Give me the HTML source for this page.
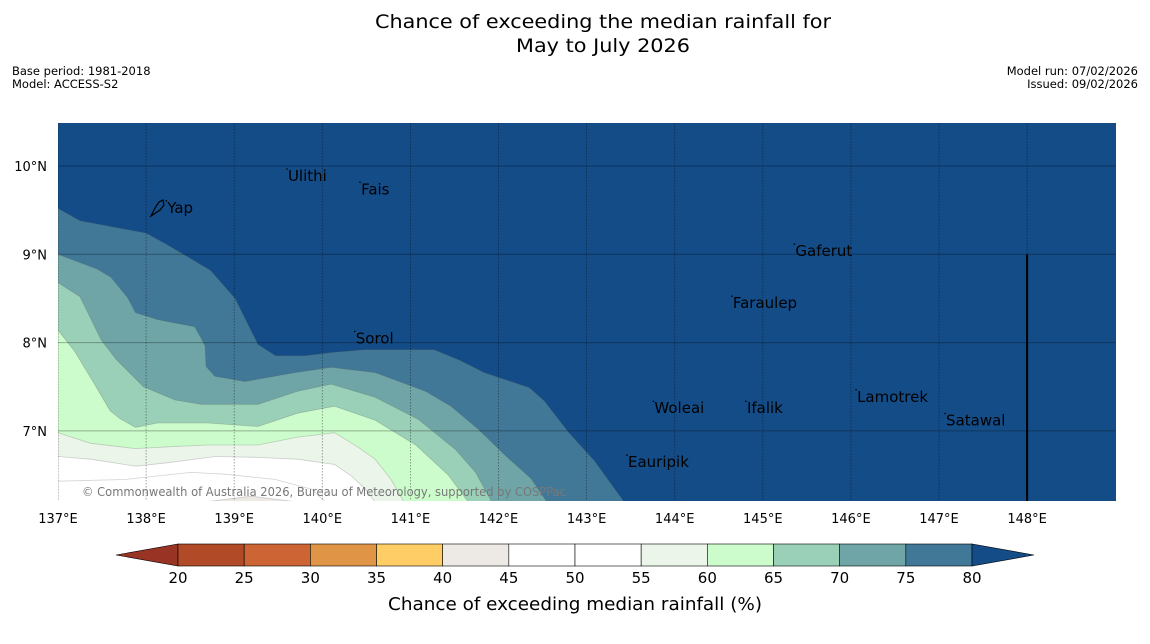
<!DOCTYPE html>
<html><head><meta charset="utf-8">
<style>
html,body{margin:0;padding:0;background:#fff;width:1150px;height:644px;overflow:hidden}
svg{display:block;font-family:"DejaVu Sans","Liberation Sans",sans-serif}
</style></head>
<body>
<svg id="chart" width="1150" height="644" viewBox="0 0 1150 644" xmlns="http://www.w3.org/2000/svg">
<text x="603" y="28" font-size="19" text-anchor="middle" textLength="456" lengthAdjust="spacingAndGlyphs">Chance of exceeding the median rainfall for</text>
<text x="603" y="52" font-size="19" text-anchor="middle" textLength="174" lengthAdjust="spacingAndGlyphs">May to July 2026</text>
<text x="12" y="75" font-size="11.5">Base period: 1981-2018</text>
<text x="12" y="88" font-size="11.5">Model: ACCESS-S2</text>
<text x="1138" y="75" font-size="11.5" text-anchor="end">Model run: 07/02/2026</text>
<text x="1138" y="88" font-size="11.5" text-anchor="end">Issued: 09/02/2026</text>
<defs><clipPath id="mapclip"><rect x="58" y="123" width="1058" height="378"/></clipPath></defs>
<g id="map" clip-path="url(#mapclip)"></g>
<g id="overlay"></g>
<g id="axes"></g>
<g id="cbar"></g>
<text x="575" y="610" font-size="18" text-anchor="middle" textLength="374" lengthAdjust="spacingAndGlyphs">Chance of exceeding median rainfall (%)</text>
</svg>
<script>
const NS="http://www.w3.org/2000/svg";
// ---- data ----
const lonTicks=[137,138,139,140,141,142,143,144,145,146,147,148];
const latTicks=[10,9,8,7];
const levels=[20,25,30,35,40,45,50,55,60,65,70,75,80];
const levelColors=["#993323","#b04a27","#cc6433","#e09546","#fecd66","#ede9e5","#ffffff","#ffffff","#ebf5ea","#ccfccb","#9bd0b8","#6fa5a6","#417897","#144c87"];
// contour boundaries (lon,lat) : area below/left is >= lower level
const c75Lon=[137.0,137.25,138.0,138.22,138.73,139.01,139.27,139.47,139.8,140.13,140.47,140.87,141.27,141.56,141.84,142.35,142.52,142.8,143.09,143.43];
const c75Lat=[9.52,9.38,9.24,9.12,8.82,8.5,7.98,7.85,7.85,7.89,7.92,7.92,7.92,7.8,7.66,7.49,7.34,6.98,6.66,6.19];
const c70Lon=[137.0,137.45,137.6,137.79,137.88,138.13,138.55,138.62,138.67,138.68,138.78,139.12,139.69,140.1,140.6,141.17,141.46,141.77,142.08,142.37,142.56];
const c70Lat=[9.0,8.83,8.74,8.51,8.34,8.26,8.18,8.06,7.96,7.73,7.62,7.56,7.66,7.72,7.66,7.45,7.28,7.02,6.72,6.46,6.18];
const c65Lon=[137.0,137.25,137.49,137.66,137.97,138.33,138.63,139.27,139.72,140.1,140.6,141.09,141.51,141.74,141.92];
const c65Lat=[8.68,8.52,8.03,7.81,7.5,7.35,7.3,7.3,7.45,7.53,7.38,7.13,6.79,6.53,6.2];
const c60Lon=[137.0,137.19,137.42,137.59,137.7,137.88,138.13,138.7,139.27,139.72,140.14,140.6,141.06,141.43,141.66];
const c60Lat=[8.14,7.9,7.52,7.23,7.14,7.04,7.09,7.09,7.05,7.2,7.28,7.12,6.84,6.5,6.19];
const c55Lon=[137.0,137.37,137.88,138.25,138.7,139.27,139.72,140.14,140.4,140.6,140.78,140.93];
const c55Lat=[6.98,6.86,6.8,6.82,6.84,6.84,6.93,6.98,6.82,6.68,6.45,6.19];
const c50Lon=[137.0,137.37,137.88,138.25,138.79,139.27,139.72,140.14,140.33,140.49,140.6];
const c50Lat=[6.71,6.68,6.6,6.64,6.71,6.7,6.68,6.62,6.49,6.34,6.19];
const c45Lon=[137.0,137.76,138.51,138.9,139.47,139.88,140.04];
const c45Lat=[6.43,6.45,6.53,6.51,6.45,6.34,6.19];
const c40Lon=[138.62,139.19,139.76];
const c40Lat=[6.19,6.26,6.19];
const places=["Ulithi","Fais","Yap","Gaferut","Faraulep","Sorol","Woleai","Ifalik","Lamotrek","Satawal","Eauripik"];
const placeLon=[139.61,140.44,138.24,145.37,144.66,140.38,143.77,144.82,146.07,147.08,143.47];
const placeLat=[9.83,9.68,9.47,8.98,8.39,7.99,7.2,7.2,7.33,7.06,6.59];
// ---- axes ----
const X0=58,Y0=501,MX=1116,MY=123;
const xs=lon=>58+(lon-137)*88.1;
const ys=lat=>166+(10-lat)*88.3;
function el(tag,attrs,parent){const e=document.createElementNS(NS,tag);for(const k in attrs)e.setAttribute(k,attrs[k]);parent.appendChild(e);return e;}
const map=document.getElementById('map');
el('rect',{x:X0,y:MY,width:MX-X0,height:Y0-MY,fill:levelColors[13]},map);
const contours=[[c75Lon,c75Lat,12,'contour-75'],[c70Lon,c70Lat,11,'contour-70'],[c65Lon,c65Lat,10,'contour-65'],[c60Lon,c60Lat,9,'contour-60'],[c55Lon,c55Lat,8,'contour-55'],[c50Lon,c50Lat,7,'contour-50'],[c45Lon,c45Lat,6,'contour-45'],[c40Lon,c40Lat,5,'contour-40']];
contours.forEach(([lo,la,ci,nm])=>{
  let pts=lo.map((v,i)=>xs(v).toFixed(1)+','+ys(la[i]).toFixed(1));
  const lastX=xs(lo[lo.length-1]);
  pts.push(lastX.toFixed(1)+',510');pts.push(xs(lo[0]).toFixed(1)+',510');
  const p=el('polygon',{points:pts.join(' '),fill:levelColors[ci],stroke:'rgba(80,80,80,0.25)','stroke-width':0.8},map);
  
  
});
// grid
lonTicks.forEach(l=>{
  const g=el('line',{x1:xs(l),x2:xs(l),y1:MY,y2:Y0,stroke:'rgba(0,0,0,0.45)','stroke-width':0.8,'stroke-dasharray':'1.5,1.5'},map);
  
  
});
latTicks.forEach(l=>{
  const g=el('line',{x1:X0,x2:MX,y1:ys(l),y2:ys(l),stroke:'rgba(0,0,0,0.3)','stroke-width':1},map);
  
  
});
const bl=el('line',{x1:xs(148),x2:xs(148),y1:ys(9),y2:Y0,stroke:'#000','stroke-width':2},map);


const cp=el('text',{x:82,y:496,'font-size':12,fill:'#777',textLength:484,lengthAdjust:'spacingAndGlyphs'},map);
cp.textContent='© Commonwealth of Australia 2026, Bureau of Meteorology, supported by COSPPac';


const ov=document.getElementById('overlay');
places.forEach((n,i)=>{
  const x=xs(placeLon[i]),y=ys(placeLat[i]);
  el('circle',{cx:x-1,cy:y-12,r:0.8,fill:'#000'},ov);
  const t=el('text',{x:x,y:y,'font-size':15,fill:'#000'},ov);
  t.textContent=n;
  
  
});
el('path',{d:'M151,216 L155,208 L159,202 L163,200 L164,205 L160,210 Z',fill:'none',stroke:'#000','stroke-width':1.2},ov);
const ax=document.getElementById('axes');
lonTicks.forEach(l=>{
  const t=el('text',{x:xs(l),y:523,'font-size':13,'text-anchor':'middle'},ax);
  t.textContent=l+'°E';
  
  
});
latTicks.forEach(l=>{
  const t=el('text',{x:47,y:ys(l)+5,'font-size':13,'text-anchor':'end'},ax);
  t.textContent=l+'°N';
  
  
});
// colorbar
const cb=document.getElementById('cbar');
const CB0=178,CB1=972,CBY=544,CBH=22;
const cx=v=>CB0+(v-20)/60*(CB1-CB0);
let lt=el('polygon',{points:`${CB0},${CBY} ${CB0},${CBY+CBH} 116,${CBY+CBH/2}`,fill:levelColors[0],stroke:'#000','stroke-width':0.6},cb);

for(let i=0;i<levels.length-1;i++){
  const r=el('rect',{x:cx(levels[i]),y:CBY,width:cx(levels[i+1])-cx(levels[i]),height:CBH,fill:levelColors[i+1],stroke:'#000','stroke-width':0.6},cb);
  
  
}
let rt=el('polygon',{points:`${CB1},${CBY} ${CB1},${CBY+CBH} 1034,${CBY+CBH/2}`,fill:levelColors[13],stroke:'#000','stroke-width':0.6},cb);

levels.forEach(v=>{
  const t=el('text',{x:cx(v),y:583,'font-size':15,'text-anchor':'middle'},cb);
  t.textContent=v;
  
  
});
</script>
</body></html>
